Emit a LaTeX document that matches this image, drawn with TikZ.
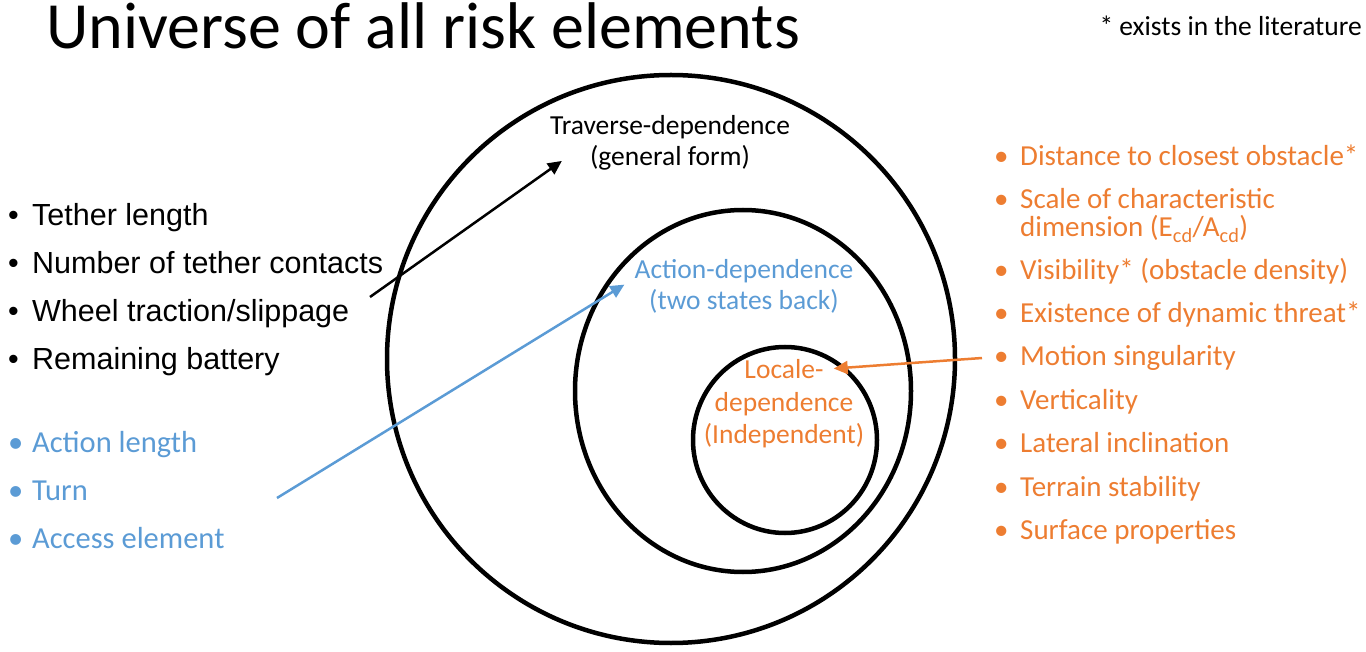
\documentclass[tikz,border=0pt]{standalone}
\usepackage{fontspec}
\setmainfont{Carlito}
\newfontfamily\arialfont{Liberation Sans}
\usepackage{tikz}
\usetikzlibrary{arrows.meta,positioning,calc}
\definecolor{riskorange}{RGB}{237,125,49}
\definecolor{riskblue}{RGB}{91,155,213}

\begin{document}
\begin{tikzpicture}[
  x=1pt,y=-1pt,
  ring/.style={draw,line width=4.5pt},
  lbl/.style={align=center,anchor=base,inner sep=0pt,font=\fontsize{27.5}{31.5}\selectfont},
  blkitem/.style={anchor=base west,inner sep=0pt,font=\arialfont\fontsize{30.5}{34}\selectfont},
  bluitem/.style={anchor=base west,inner sep=0pt,text=riskblue,font=\fontsize{30.5}{34}\selectfont},
  orgitem/.style={anchor=base west,inner sep=0pt,text=riskorange,align=left,font=\fontsize{29}{28}\selectfont},
  pointer/.style={-{Triangle[length=14pt,width=13pt]},line width=2.5pt},
]
\useasboundingbox (0,0) rectangle (1366,652);

% Titles
\node[anchor=base west,inner sep=0pt,font=\fontsize{66}{72}\selectfont] (title) at (46,49) {Universe of all risk elements};
\node[anchor=base east,inner sep=0pt,font=\fontsize{27.5}{30}\selectfont] (note) at (1362,36) {* exists in the literature};

% Rings
\draw[ring] (671,359) circle [radius=284];
\draw[ring] (743,391) ellipse [x radius=168,y radius=181];
\draw[ring] (785,440) ellipse [x radius=92,y radius=93];

% Ring labels (base = last line)
\node[lbl] (trav) at (670,166) {Traverse-dependence\\(general form)};
\node[lbl,text=riskblue] (act) at (744,310) {Action-dependence\\(two states back)};
\node[lbl,text=riskorange] (loc) at (784,378) {Locale-};
\node[lbl,text=riskorange] (locdep) at (784,443) {dependence\\(Independent)};

% Left lists
\node[blkitem] (tether) at (8,226) {\makebox[24pt][l]{•}Tether length};
\node[blkitem] (contacts) at (8,274) {\makebox[24pt][l]{•}Number of tether contacts};
\node[blkitem] (wheel) at (8,322) {\makebox[24pt][l]{•}Wheel traction/slippage};
\node[blkitem] (battery) at (8,370) {\makebox[24pt][l]{•}Remaining battery};

\node[bluitem] (alen) at (8,452) {\makebox[24pt][l]{•}Action length};
\node[bluitem] (turn) at (8,500) {\makebox[24pt][l]{•}Turn};
\node[bluitem] (access) at (8,548) {\makebox[24pt][l]{•}Access element};

% Right list
\node[orgitem] (dist) at (994,166) {\makebox[26pt][l]{•}Distance to closest obstacle*};
\node[orgitem] (scale) at (994,237) {\makebox[26pt][l]{•}Scale of characteristic\\\hspace*{26pt}dimension (E\textsubscript{cd}/A\textsubscript{cd})};
\node[orgitem] (visib) at (994,280) {\makebox[26pt][l]{•}Visibility* (obstacle density)};
\node[orgitem] (threat) at (994,323) {\makebox[26pt][l]{•}Existence of dynamic threat*};
\node[orgitem] (motion) at (994,366) {\makebox[26pt][l]{•}Motion singularity};
\node[orgitem] (vert) at (994,409) {\makebox[26pt][l]{•}Verticality};
\node[orgitem] (lateral) at (994,452) {\makebox[26pt][l]{•}Lateral inclination};
\node[orgitem] (terrain) at (994,496) {\makebox[26pt][l]{•}Terrain stability};
\node[orgitem] (surface) at (994,539) {\makebox[26pt][l]{•}Surface properties};

% Pointers
\coordinate (tstart) at (370,297);
\coordinate (astart) at (277,498);
\coordinate (lstart) at (982,358);
\draw[pointer] (tstart) -- ([shift={(12,-10)}]trav.south west);
\draw[pointer,riskblue] (astart) -- ([shift={(-10,-2)}]act.west);
\draw[pointer,riskorange] (lstart) -- ([xshift=10]loc.east);

\end{tikzpicture}
\end{document}
